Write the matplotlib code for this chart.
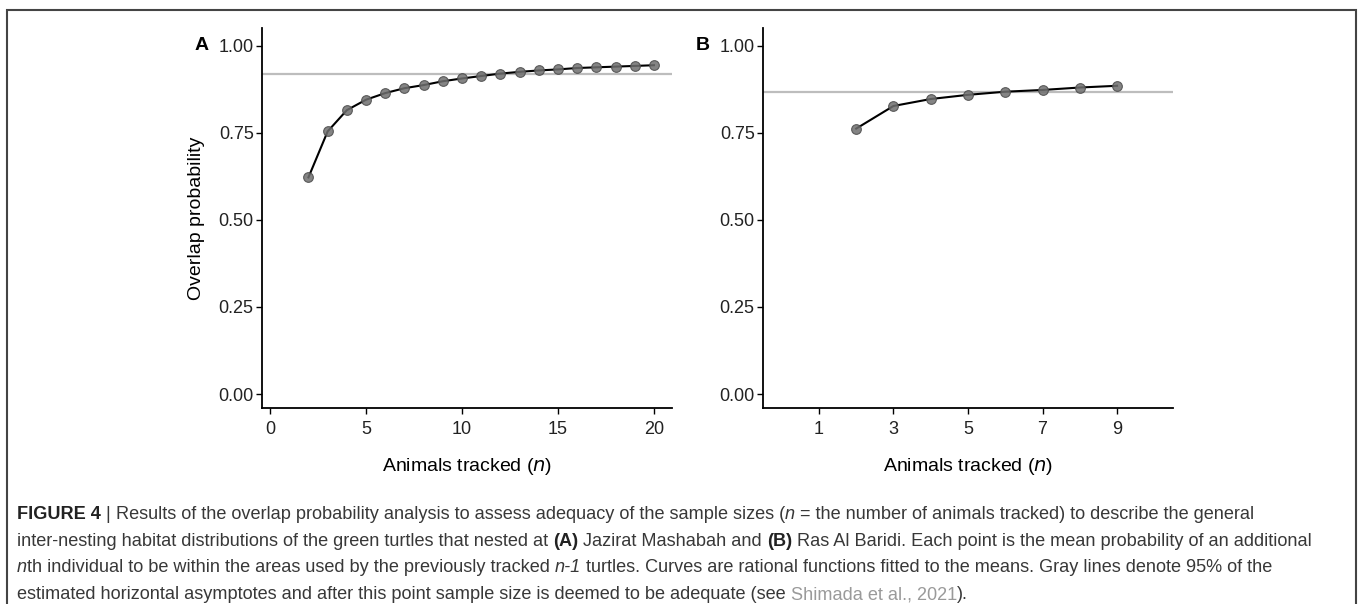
import numpy as np
import matplotlib as mpl
mpl.use('Agg')
from matplotlib import pyplot as plt
from matplotlib import font_manager
from matplotlib.patches import Rectangle

W, H = 1358, 604

# panel A: Jazirat Mashabah
nA = [2, 3, 4, 5, 6, 7, 8, 9, 10, 11, 12, 13, 14, 15, 16, 17, 18, 19, 20]
pA = [0.622, 0.754, 0.815, 0.845, 0.864, 0.878, 0.887, 0.898, 0.906, 0.913,
      0.920, 0.925, 0.929, 0.932, 0.936, 0.938, 0.940, 0.942, 0.944]
asymA = 0.918
ticksA = [0, 5, 10, 15, 20]

# panel B: Ras Al Baridi
nB = [2, 3, 4, 5, 6, 7, 8, 9]
pB = [0.762, 0.827, 0.847, 0.859, 0.868, 0.873, 0.880, 0.885]
asymB = 0.868
ticksB = [1, 3, 5, 7, 9]

yticks = [0.00, 0.25, 0.50, 0.75, 1.00]
ylabels = ['0.00', '0.25', '0.50', '0.75', '1.00']

mpl.rcParams['font.family'] = ['Liberation Sans', 'DejaVu Sans']

fig = plt.figure(figsize=(W / 100, H / 100), dpi=100)

# outer frame of the figure box
fig.patches.append(Rectangle((7 / W, -0.05), 1349 / W, 1.05 - 10 / H,
                             transform=fig.transFigure, fill=False,
                             edgecolor='#444444', lw=1.5))


def panel(left, n, p, asym, ticks, xlim, letter, ylab):
	ax = fig.add_axes([left / W, 1 - 408 / H, 410 / W, (408 - 28.3) / H])
	ax.axhline(asym, color='#bdbdbd', lw=1.6, zorder=1)
	ax.plot(n, p, color='black', lw=1.5, zorder=2)
	ax.plot(n, p, 'o', ms=7, mfc='#6f6f6f', mec='#4a4a4a', mew=0.8,
	        alpha=0.85, zorder=3)
	ax.set_xlim(xlim)
	ax.set_ylim(-0.04, 1.05)
	ax.set_xticks(ticks)
	ax.set_yticks(yticks)
	ax.set_yticklabels(ylabels)
	for s in ['top', 'right']:
		ax.spines[s].set_visible(False)
	for s in ['left', 'bottom']:
		ax.spines[s].set_linewidth(1.3)
	ax.tick_params(length=4, width=1, labelsize=13, labelcolor='#222222')
	ax.tick_params(axis='y', pad=2)
	ax.tick_params(axis='x', pad=5.5)
	ax.set_xlabel('Animals tracked ($\\it{n}$)', fontsize=14, labelpad=13)
	if ylab:
		ax.set_ylabel('Overlap probability', fontsize=14, labelpad=10)
	fig.text((left - 67) / W, 1 - 45.7 / H, letter, fontsize=14,
	         fontweight='bold', va='center', ha='left')
	return ax


panel(262, nA, pA, asymA, ticksA, (-0.42, 20.94), 'A', True)
panel(763, nB, pB, asymB, ticksB, (-0.5, 10.5), 'B', False)

# caption with mixed styles
names = {f.name for f in font_manager.fontManager.ttflist}
capfont = 'Liberation Sans Narrow' if 'Liberation Sans Narrow' in names else 'Liberation Sans'

N, B, I, G = 'n', 'b', 'i', 'g'
lines = [
	[('FIGURE 4', B), (' | ', N), ('Results of the overlap probability analysis to assess adequacy of the sample sizes (', N),
	 ('n', I), (' = the number of animals tracked) to describe the general', N)],
	[('inter-nesting habitat distributions of the green turtles that nested at ', N), ('(A)', B),
	 (' Jazirat Mashabah and ', N), ('(B)', B),
	 (' Ras Al Baridi. Each point is the mean probability of an additional', N)],
	[('n', I), ('th individual to be within the areas used by the previously tracked ', N), ('n-1', I),
	 (' turtles. Curves are rational functions fitted to the means. Gray lines denote 95% of the', N)],
	[('estimated horizontal asymptotes and after this point sample size is deemed to be adequate (see ', N),
	 ('Shimada et al., 2021', G), (').', N)],
]
baselines = [519, 546, 572, 599]

renderer = fig.canvas.get_renderer()


def style(kind, size):
	kw = dict(fontsize=size, family=[capfont, 'DejaVu Sans'], color='#383838')
	if kind == B:
		kw['fontweight'] = 'bold'
		kw['color'] = '#222222'
	elif kind == I:
		kw['fontstyle'] = 'italic'
	elif kind == G:
		kw['color'] = '#9a9a9a'
	return kw


def width(s, kw):
	t1 = fig.text(0, 0, '|' + s + '|', **kw)
	t2 = fig.text(0, 0, '||', **kw)
	w = t1.get_window_extent(renderer).width - t2.get_window_extent(renderer).width
	t1.remove()
	t2.remove()
	return w


# size the caption so the second line spans the same width as in the figure
test = sum(width(s, style(k, 10)) for s, k in lines[1])
capsize = 10 * 1295 / test

for parts, yb in zip(lines, baselines):
	x = 17
	for s, k in parts:
		kw = style(k, capsize)
		fig.text(x / W, 1 - yb / H, s, va='baseline', ha='left', **kw)
		x += width(s, kw)

fig.savefig('out.png', dpi=100)
